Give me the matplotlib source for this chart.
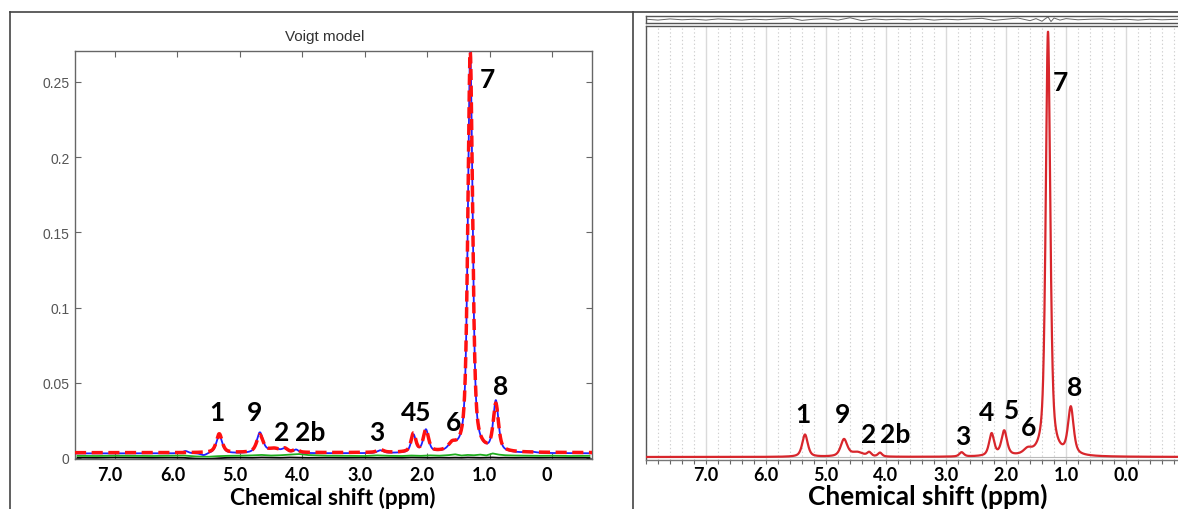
import numpy as np
import matplotlib
matplotlib.use('Agg')
import matplotlib.pyplot as plt
from matplotlib.lines import Line2D
from matplotlib.transforms import ScaledTranslation

# ---------------- data ----------------
# Left panel (Voigt model fit): peak positions (ppm), heights, half-widths
left_peak_ppm = [5.33, 4.68, 4.45, 4.28, 4.10, 2.75, 2.22, 2.02, 1.60, 1.31, 0.90]
left_fit_height = [0.0125, 0.0115, 0.0025, 0.0022, 0.0020, 0.0018, 0.0122, 0.0145, 0.0040, 0.266, 0.031]
left_data_height = [0.0120, 0.0135, 0.0028, 0.0024, 0.0022, 0.0018, 0.0118, 0.0150, 0.0045, 0.266, 0.0335]
left_peak_width = [0.055, 0.06, 0.12, 0.05, 0.05, 0.06, 0.045, 0.05, 0.07, 0.045, 0.05]
left_fit_base = 0.0035
left_data_base = 0.0030
# small extra features of the measured trace
left_extra_ppm = [5.87, 5.58, 0.33]
left_extra_height = [0.0015, -0.0015, 0.0007]

# residual (green) and baseline (black) traces, left panel
left_resid_ppm = [7.6, 7.3, 7.0, 6.7, 6.4, 6.1, 5.9, 5.7, 5.5, 5.35, 5.2, 5.0, 4.8, 4.65, 4.5, 4.35,
                  4.2, 4.05, 3.9, 3.6, 3.3, 3.0, 2.8, 2.6, 2.4, 2.25, 2.1, 1.95, 1.8, 1.65, 1.55,
                  1.45, 1.35, 1.25, 1.15, 1.05, 0.95, 0.85, 0.75, 0.6, 0.4, 0.2, 0.0, -0.3, -0.6]
left_resid_val = [0.0014, 0.0013, 0.0015, 0.0014, 0.0013, 0.0015, 0.0016, 0.0010, 0.0008, 0.0012, 0.0014,
                  0.0015, 0.0017, 0.0020, 0.0016, 0.0018, 0.0022, 0.0026, 0.0019, 0.0015, 0.0014,
                  0.0013, 0.0017, 0.0014, 0.0013, 0.0016, 0.0014, 0.0017, 0.0015, 0.0019, 0.0024,
                  0.0016, 0.0020, 0.0018, 0.0022, 0.0017, 0.0030, 0.0022, 0.0018, 0.0016, 0.0015,
                  0.0014, 0.0015, 0.0013, 0.0014]
left_base_val = [0.0002, 0.0001, 0.0003, 0.0002, 0.0001, 0.0002, 0.0001, -0.0004, -0.0006, -0.0002, 0.0001,
                 0.0002, 0.0001, 0.0003, 0.0002, 0.0001, 0.0003, 0.0002, 0.0001, 0.0002, 0.0001,
                 0.0002, 0.0001, 0.0002, 0.0001, 0.0003, 0.0002, 0.0001, 0.0002, 0.0001, 0.0002,
                 0.0001, 0.0003, 0.0002, 0.0001, 0.0002, 0.0003, 0.0001, 0.0002, 0.0001, 0.0002,
                 0.0001, 0.0002, 0.0001, 0.0001]

left_label_text = ['1', '9', '2', '2b', '3', '45', '6', '7', '8']
left_label_ppm = [5.37, 4.76, 4.33, 3.88, 2.80, 2.18, 1.58, 1.04, 0.83]
left_label_y = [0.0306, 0.0306, 0.0173, 0.0173, 0.0173, 0.0306, 0.024, 0.252, 0.048]

left_xtick_vals = [7, 6, 5, 4, 3, 2, 1, 0]
left_xtick_text = ['7.0', '6.0', '5.0', '4.0', '3.0', '2.0', '1.0', '0']
left_ytick_vals = [0, 0.05, 0.1, 0.15, 0.2, 0.25]
left_ytick_text = ['0', '0.05', '0.1', '0.15', '0.2', '0.25']

# Right panel: peak positions, relative heights, half-widths
right_peak_ppm = [5.35, 4.70, 4.48, 4.28, 4.10, 2.74, 2.24, 2.03, 1.64, 1.30, 0.92]
right_peak_height = [0.052, 0.040, 0.010, 0.009, 0.009, 0.010, 0.052, 0.058, 0.012, 0.99, 0.110]
right_peak_width = [0.055, 0.065, 0.12, 0.04, 0.04, 0.045, 0.05, 0.055, 0.08, 0.045, 0.055]

right_label_text = ['1', '9', '2', '2b', '3', '4', '5', '6', '7', '8']
right_label_ppm = [5.38, 4.73, 4.29, 3.84, 2.72, 2.32, 1.90, 1.62, 1.09, 0.85]
right_label_y = [0.100, 0.100, 0.054, 0.054, 0.049, 0.105, 0.110, 0.070, 0.874, 0.163]

right_xtick_vals = [7, 6, 5, 4, 3, 2, 1, 0]
right_xtick_text = ['7.0', '6.0', '5.0', '4.0', '3.0', '2.0', '1.0', '0.0']

# residual strip above right panel
right_resid_ppm = [8.0, 7.8, 7.6, 7.4, 7.2, 7.0, 6.8, 6.6, 6.4, 6.2, 6.0, 5.8, 5.6, 5.4, 5.2, 5.0,
                   4.8, 4.6, 4.4, 4.2, 4.0, 3.8, 3.6, 3.4, 3.2, 3.0, 2.8, 2.6, 2.4, 2.2, 2.0, 1.8,
                   1.6, 1.5, 1.4, 1.35, 1.3, 1.25, 1.2, 1.1, 1.0, 0.8, 0.6, 0.4, 0.2, 0.0, -0.2,
                   -0.4, -0.6, -0.9]
right_resid_val = [0.1, -0.2, 0.2, -0.1, 0.1, -0.2, 0.2, 0.0, -0.2, 0.1, -0.1, 0.2, 0.5, -0.3, 0.1, 0.3,
                   -0.2, 0.6, -0.4, 0.2, -0.1, 0.1, -0.1, 0.2, -0.2, 0.1, -0.1, 0.2, 0.4, -0.3, 0.1, 0.5,
                   -0.4, 0.3, -0.6, 0.2, 0.9, -0.7, 0.5, -0.2, 0.3, -0.1, 0.1, 0.2, -0.1, 0.1, -0.2,
                   0.1, -0.1, 0.1]

# ---------------- helpers ----------------
W, H = 1178, 510
fig = plt.figure(figsize=(W / 100, H / 100), dpi=100)


def px_axes(l, t, r, b):
    return fig.add_axes([l / W, 1 - b / H, (r - l) / W, (b - t) / H])


def voigt_sum(x, centers, heights, widths, eta):
    y = np.zeros_like(x)
    for c, h, w in zip(centers, heights, widths):
        d2 = (x - c) ** 2
        lor = w ** 2 / (d2 + w ** 2)
        gau = np.exp(-np.log(2) * d2 / w ** 2)
        y += h * (eta * lor + (1 - eta) * gau)
    return y


label_font = dict(family='Lato', weight='bold', fontsize=19, color='black')
tick_font_bold = dict(family='Lato', weight='bold', fontsize=13)

# ---------------- left panel ----------------
axL = px_axes(75, 52, 592, 460)
xl = np.linspace(7.64, -0.64, 4000)
fit_curve = left_fit_base + voigt_sum(xl, left_peak_ppm, left_fit_height, left_peak_width, 0.6)
data_curve = (left_data_base + voigt_sum(xl, left_peak_ppm, left_data_height, left_peak_width, 0.6)
              + voigt_sum(xl, left_extra_ppm, left_extra_height, [0.05, 0.06, 0.08], 0.5))

axL.plot(left_resid_ppm, left_base_val, color='black', lw=1.3, zorder=2)
axL.plot(left_resid_ppm, left_resid_val, color='#1fae1f', lw=1.3, zorder=3)
axL.plot(xl, data_curve, color='#1f1fff', lw=1.3, zorder=4)
axL.plot(xl, fit_curve, color='#ff1010', lw=2.5, ls=(0, (3.2, 1.6)), zorder=5)

axL.set_xlim(7.64, -0.64)
axL.set_ylim(-0.0007, 0.2706)
axL.set_xticks(left_xtick_vals)
axL.set_xticklabels(left_xtick_text, **tick_font_bold)
axL.set_yticks(left_ytick_vals)
axL.set_yticklabels(left_ytick_text, family='Liberation Sans', fontsize=10, color='#555555')
axL.tick_params(direction='in', length=4, width=0.8, color='#666666', top=True, right=True,
                labeltop=False, labelright=False)
axL.tick_params(axis='x', pad=5)
axL.tick_params(axis='y', pad=4)
for lab in axL.get_xticklabels():
    lab.set_transform(lab.get_transform() + ScaledTranslation(-5 / 100, 0, fig.dpi_scale_trans))
for sp in axL.spines.values():
    sp.set_color('#666666')
    sp.set_linewidth(1.0)

for t, xp, yp in zip(left_label_text, left_label_ppm, left_label_y):
    axL.text(xp, yp, t, ha='center', va='center', **label_font)

fig.text(325 / W, 1 - 37 / H, 'Voigt model', ha='center', va='center',
         family='Liberation Sans', fontsize=11, color='#333333')
fig.text(333 / W, 1 - 498 / H, 'Chemical shift (ppm)', ha='center', va='center',
         family='Lato', weight='bold', fontsize=16.3)

# ---------------- right panel ----------------
axR = px_axes(646, 27, 1180, 461)
xr = np.linspace(8.0, -0.9, 4000)
spec = voigt_sum(xr, right_peak_ppm, right_peak_height, right_peak_width, 0.6)
axR.plot(xr, spec, color='#d8262c', lw=1.6, zorder=5)
axR.axhline(0, color='#bbbbbb', lw=0.8, zorder=1)
axR.set_xlim(8.0, -0.9)
axR.set_ylim(-0.007, 1.005)
axR.set_xticks(right_xtick_vals)
axR.set_xticklabels(right_xtick_text, **tick_font_bold)
axR.set_xticks(np.arange(-0.8, 8.01, 0.2), minor=True)
axR.set_yticks([])
axR.tick_params(axis='x', which='both', direction='out', length=3, width=0.8, color='#666666', pad=1.5)
axR.grid(True, which='major', axis='x', color='#dadada', lw=1.0, ls='-')
axR.grid(True, which='minor', axis='x', color='#cfcfcf', lw=0.8, ls=(0, (1.2, 2.2)))
axR.set_axisbelow(True)
axR.spines['right'].set_visible(False)
axR.spines['left'].set_color('#555555')
axR.spines['top'].set_color('#555555')
axR.spines['bottom'].set_color('#777777')
for sp in axR.spines.values():
    sp.set_linewidth(1.0)

for t, xp, yp in zip(right_label_text, right_label_ppm, right_label_y):
    axR.text(xp, yp, t, ha='center', va='center', **label_font)

fig.text(928 / W, 1 - 496 / H, 'Chemical shift (ppm)', ha='center', va='center',
         family='Lato', weight='bold', fontsize=19)

# residual strip
axS = px_axes(646, 17, 1180, 24)
axS.plot(right_resid_ppm, right_resid_val, color='#666666', lw=0.7)
axS.set_xlim(8.0, -0.9)
axS.set_ylim(-1.2, 1.2)
axS.set_xticks([])
axS.set_yticks([])
axS.spines['right'].set_visible(False)
for sp in ['left', 'top', 'bottom']:
    axS.spines[sp].set_color('#555555')
    axS.spines[sp].set_linewidth(1.0)

# ---------------- outer frames ----------------
frame_kw = dict(transform=fig.transFigure, color='#444444', lw=1.2)
fig.add_artist(Line2D([10 / W, 1], [1 - 13 / H, 1 - 13 / H], **frame_kw))
fig.add_artist(Line2D([10 / W, 10 / W], [0, 1 - 13 / H], **frame_kw))
fig.add_artist(Line2D([633 / W, 633 / W], [0, 1 - 13 / H], **frame_kw))

fig.savefig('out.png', dpi=100)
